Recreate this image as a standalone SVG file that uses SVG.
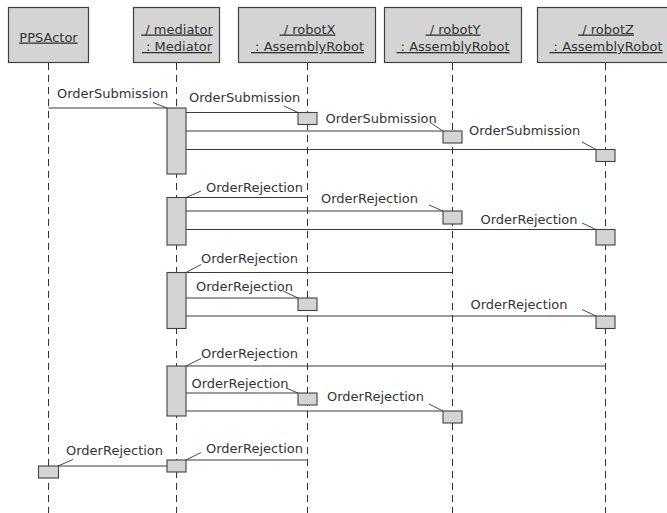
<svg xmlns="http://www.w3.org/2000/svg" width="667" height="513" viewBox="0 0 667 513">
  <style>
    .head { fill: #d4d4d4; stroke: #404040; stroke-width: 1.2; }
    .act { fill: #d4d4d4; stroke: #404040; stroke-width: 1.1; }
    .life { stroke: #333; stroke-width: 1; stroke-dasharray: 7 5; fill: none; }
    .msg { stroke: #3a3a3a; stroke-width: 1; fill: none; }
    .lead { stroke: #333; stroke-width: 0.9; fill: none; }
    text { font-family: "DejaVu Sans", "Liberation Sans", sans-serif; font-size: 13px; fill: #333; }
    .title { text-anchor: middle; text-decoration: underline; }
  </style>

  <!-- lifelines -->
  <g id="lifelines">
    <line class="life" x1="48.5" y1="63" x2="48.5" y2="513"/>
    <line class="life" x1="176.5" y1="63" x2="176.5" y2="513"/>
    <line class="life" x1="307.5" y1="63" x2="307.5" y2="513"/>
    <line class="life" x1="452.5" y1="63" x2="452.5" y2="513"/>
    <line class="life" x1="605.5" y1="63" x2="605.5" y2="513"/>
  </g>

  <!-- participant heads -->
  <g id="ppsactor">
    <rect class="head" x="8.5" y="7.5" width="80" height="55"/>
    <text class="title" x="48.5" y="41.5">PPSActor</text>
  </g>
  <g id="mediator">
    <rect class="head" x="133.5" y="7.5" width="86" height="55"/>
    <text class="title" x="177" y="33.5">&#160;/ mediator</text>
    <text class="title" x="177" y="51">&#160;: Mediator</text>
  </g>
  <g id="robotX">
    <rect class="head" x="238.5" y="7.5" width="137" height="55"/>
    <text class="title" x="307.5" y="33.5">&#160;/ robotX</text>
    <text class="title" x="307.5" y="51">&#160;: AssemblyRobot</text>
  </g>
  <g id="robotY">
    <rect class="head" x="384.5" y="7.5" width="137" height="55"/>
    <text class="title" x="453" y="33.5">&#160;/ robotY</text>
    <text class="title" x="453" y="51">&#160;: AssemblyRobot</text>
  </g>
  <g id="robotZ">
    <rect class="head" x="537.5" y="7.5" width="137" height="55"/>
    <text class="title" x="606" y="33.5">&#160;/ robotZ</text>
    <text class="title" x="606" y="51">&#160;: AssemblyRobot</text>
  </g>

  <!-- messages -->
  <g id="connectors">
    <!-- submission round -->
    <line class="msg" x1="48.5" y1="108" x2="167" y2="108"/>
    <line class="msg" x1="186" y1="112.5" x2="298" y2="112.5"/>
    <line class="msg" x1="186" y1="131" x2="443" y2="131"/>
    <line class="msg" x1="186" y1="149.5" x2="596" y2="149.5"/>
    <!-- rejection from robotX -->
    <line class="msg" x1="307.5" y1="197.5" x2="186" y2="197.5"/>
    <line class="msg" x1="186" y1="211" x2="443" y2="211"/>
    <line class="msg" x1="186" y1="229.5" x2="596" y2="229.5"/>
    <!-- rejection from robotY -->
    <line class="msg" x1="452.5" y1="272.5" x2="186" y2="272.5"/>
    <line class="msg" x1="186" y1="298" x2="298" y2="298"/>
    <line class="msg" x1="186" y1="316" x2="596" y2="316"/>
    <!-- rejection from robotZ -->
    <line class="msg" x1="605.5" y1="366" x2="186" y2="366"/>
    <line class="msg" x1="186" y1="393" x2="298" y2="393"/>
    <line class="msg" x1="186" y1="411" x2="443" y2="411"/>
    <!-- final rejection -->
    <line class="msg" x1="307.5" y1="460" x2="186" y2="460"/>
    <line class="msg" x1="167" y1="466" x2="58" y2="466"/>

    <!-- label leaders -->
    <line class="lead" x1="153" y1="102.5" x2="167" y2="108"/>
    <line class="lead" x1="284" y1="106" x2="298" y2="112.5"/>
    <line class="lead" x1="431" y1="123" x2="443" y2="131"/>
    <line class="lead" x1="582" y1="142" x2="596" y2="149.5"/>
    <line class="lead" x1="186" y1="197.5" x2="201" y2="191"/>
    <line class="lead" x1="429" y1="205" x2="443" y2="211"/>
    <line class="lead" x1="582" y1="223" x2="596" y2="229.5"/>
    <line class="lead" x1="186" y1="272.5" x2="201" y2="264.5"/>
    <line class="lead" x1="283" y1="291" x2="298" y2="298"/>
    <line class="lead" x1="582" y1="309.5" x2="596" y2="316"/>
    <line class="lead" x1="186" y1="366" x2="201" y2="358.5"/>
    <line class="lead" x1="286" y1="388" x2="298" y2="393"/>
    <line class="lead" x1="429" y1="404" x2="443" y2="411"/>
    <line class="lead" x1="186" y1="460" x2="201" y2="452.5"/>
    <line class="lead" x1="58" y1="466" x2="73" y2="459.5"/>
  </g>

  <!-- activations -->
  <g id="activations">
    <rect class="act" x="167" y="108" width="19" height="66"/>
    <rect class="act" x="298" y="112.5" width="19" height="12"/>
    <rect class="act" x="443" y="131" width="19" height="12"/>
    <rect class="act" x="596" y="149.5" width="19" height="12"/>

    <rect class="act" x="167" y="197.5" width="19" height="47.5"/>
    <rect class="act" x="443" y="211" width="19" height="13"/>
    <rect class="act" x="596" y="229.5" width="19" height="15.5"/>

    <rect class="act" x="167" y="272.5" width="19" height="56"/>
    <rect class="act" x="298" y="298" width="19" height="12.5"/>
    <rect class="act" x="596" y="316" width="19" height="12.5"/>

    <rect class="act" x="167" y="366" width="19" height="50"/>
    <rect class="act" x="298" y="393" width="19" height="12"/>
    <rect class="act" x="443" y="411" width="19" height="12"/>

    <rect class="act" x="167" y="460" width="19" height="12"/>
    <rect class="act" x="38.5" y="466" width="20" height="12"/>
  </g>

  <!-- message labels -->
  <g id="labels">
    <text x="57" y="97.5">OrderSubmission</text>
    <text x="189" y="102">OrderSubmission</text>
    <text x="325.5" y="123">OrderSubmission</text>
    <text x="469" y="134.5">OrderSubmission</text>

    <text x="206" y="192">OrderRejection</text>
    <text x="321" y="203">OrderRejection</text>
    <text x="480.5" y="224">OrderRejection</text>

    <text x="201" y="262.5">OrderRejection</text>
    <text x="196" y="290.5">OrderRejection</text>
    <text x="470.5" y="309">OrderRejection</text>

    <text x="201" y="358">OrderRejection</text>
    <text x="191.5" y="388">OrderRejection</text>
    <text x="327" y="401">OrderRejection</text>

    <text x="206" y="453">OrderRejection</text>
    <text x="66" y="454.5">OrderRejection</text>
  </g>
</svg>
